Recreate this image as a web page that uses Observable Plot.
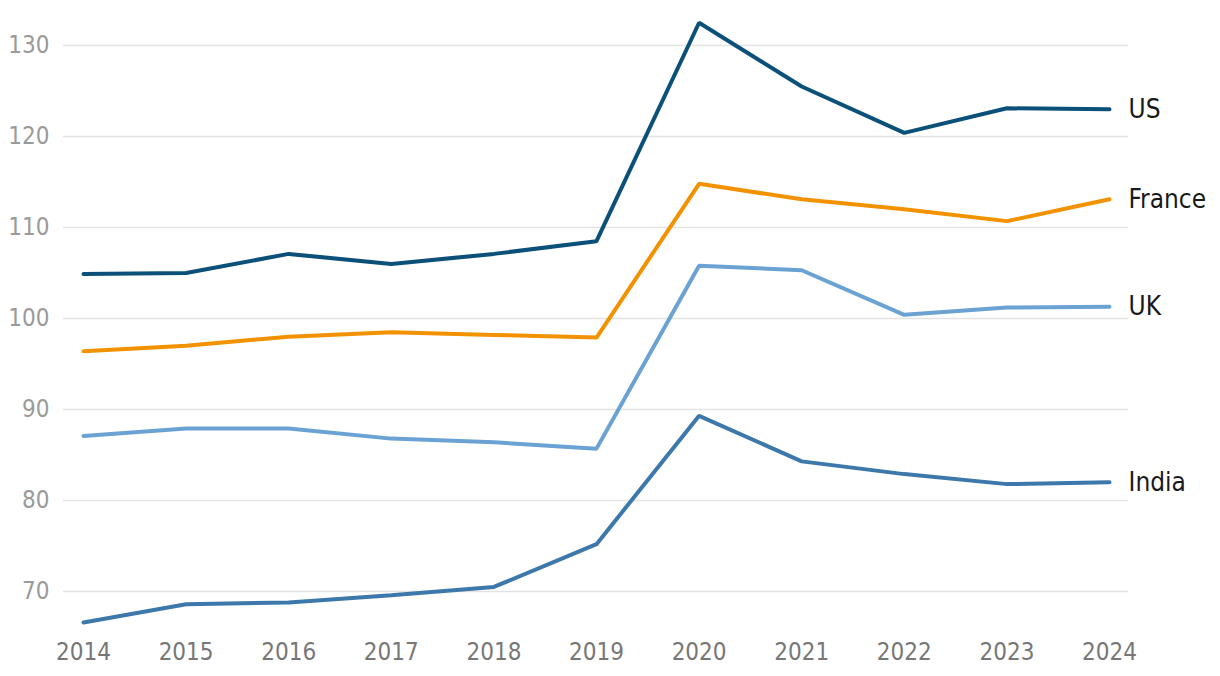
<!DOCTYPE html>
<html>
<head>
<meta charset="utf-8">
<script src="https://cdn.jsdelivr.net/npm/d3@7"></script>
<script src="https://cdn.jsdelivr.net/npm/@observablehq/plot@0.6"></script>
<style>
  html, body { margin: 0; padding: 0; background: #fff; }
  #chart { width: 1220px; height: 676px; }
  svg { font-family: "Liberation Sans Narrow", "DejaVu Sans Condensed", sans-serif; }
</style>
</head>
<body>
<div id="chart"></div>
<script>
const years = [2014, 2015, 2016, 2017, 2018, 2019, 2020, 2021, 2022, 2023, 2024];
const us     = [104.9, 105.0, 107.1, 106.0, 107.1, 108.5, 132.5, 125.5, 120.4, 123.1, 123.0];
const france = [96.4, 97.0, 98.0, 98.5, 98.2, 97.9, 114.8, 113.1, 112.0, 110.7, 113.1];
const uk     = [87.1, 87.9, 87.9, 86.8, 86.4, 85.7, 105.8, 105.3, 100.4, 101.2, 101.3];
const india  = [66.6, 68.6, 68.8, 69.6, 70.5, 75.2, 89.3, 84.3, 82.9, 81.8, 82.0];
const seriesNames = ["US", "France", "UK", "India"];
const seriesColors = ["#0a5079", "#f39200", "#6aa2d3", "#3d78aa"];
const yTicks = [70, 80, 90, 100, 110, 120, 130];

const valuesBy = {US: us, France: france, UK: uk, India: india};
const data = seriesNames.flatMap(name => years.map((y, i) => ({name, year: y, value: valuesBy[name][i]})));
const last = seriesNames.map(name => ({name, year: years[years.length - 1], value: valuesBy[name][years.length - 1]}));

const plot = Plot.plot({
  width: 1220,
  height: 676,
  marginLeft: 63,
  marginRight: 92,
  marginTop: 45,
  marginBottom: 40,
  style: {fontFamily: "'Liberation Sans Narrow', 'DejaVu Sans Condensed', sans-serif", background: "#fff"},
  x: {domain: [2014, 2024], insetLeft: 20, insetRight: 19},
  y: {domain: [70, 130], insetBottom: 45},
  color: {domain: seriesNames, range: seriesColors},
  marks: [
    Plot.gridY(yTicks, {stroke: "#e3e3e3", strokeOpacity: 1, strokeWidth: 1.6}),
    Plot.axisY(yTicks, {tickSize: 0, tickPadding: 14, fontSize: 24, fill: "#9a9a9a", label: null}),
    Plot.axisX(years, {tickSize: 0, tickPadding: 6, fontSize: 24, fill: "#777", label: null, tickFormat: d => String(d)}),
    Plot.line(data, {x: "year", y: "value", z: "name", stroke: "name", strokeWidth: 4, strokeLinejoin: "miter", strokeLinecap: "round"}),
    Plot.text(last, {x: "year", y: "value", text: "name", textAnchor: "start", dx: 19, fontSize: 26, fill: "#1a1a1a"})
  ]
});
document.getElementById("chart").appendChild(plot);
</script>
</body>
</html>
